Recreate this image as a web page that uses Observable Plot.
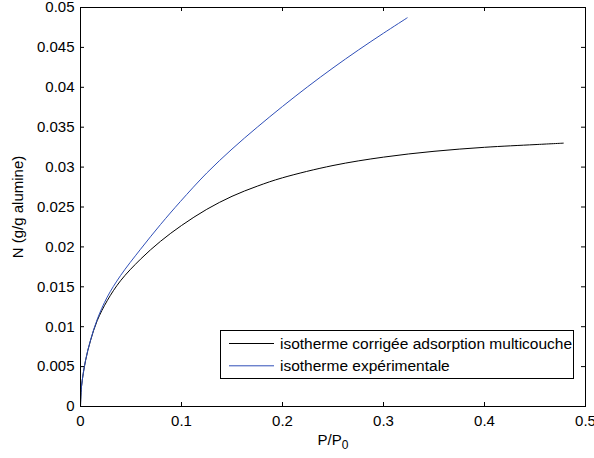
<!DOCTYPE html>
<html>
<head>
<meta charset="utf-8">
<script src="https://cdn.jsdelivr.net/npm/d3@7"></script>
<script src="https://cdn.jsdelivr.net/npm/@observablehq/plot@0.6"></script>
<style>
  body { margin: 0; background: #fff; }
  #wrap { position: relative; width: 594px; height: 458px; font-family: "Liberation Sans", Arial, Helvetica, sans-serif; }
  #legend { position: absolute; left: 220px; top: 330px; width: 352px; height: 47px; border: 1px solid #000; background: #fff; }
  #legend svg { display: block; }
</style>
</head>
<body>
<div id="wrap"></div>
<script>
// Series: corrected isotherm (black)
const pCorr = [0, 0.001, 0.005, 0.0099, 0.0165, 0.0264, 0.0396, 0.0594, 0.0792, 0.1, 0.125, 0.15, 0.175, 0.2, 0.25, 0.3, 0.35, 0.4, 0.45, 0.478];
const nCorr = [0, 0.0025, 0.00575, 0.00825, 0.01075, 0.01325, 0.01575, 0.01846, 0.0207, 0.02268, 0.02471, 0.02634, 0.02761, 0.02866, 0.0302, 0.03125, 0.03198, 0.03248, 0.03282, 0.033];
// Series: experimental isotherm (blue)
const pExp = [0, 0.001, 0.005, 0.0099, 0.0165, 0.0264, 0.0396, 0.0594, 0.0792, 0.099, 0.125, 0.15, 0.175, 0.2, 0.225, 0.25, 0.275, 0.3, 0.3234];
const nExp = [0, 0.0025, 0.0058, 0.0083, 0.0109, 0.0137, 0.0164, 0.0197, 0.0228, 0.0257, 0.02926, 0.03226, 0.035, 0.0376, 0.04008, 0.04243, 0.04466, 0.04678, 0.0487];
// Ticks
const xTicks = [0, 0.1, 0.2, 0.3, 0.4, 0.5];
const yTicks = [0, 0.005, 0.01, 0.015, 0.02, 0.025, 0.03, 0.035, 0.04, 0.045, 0.05];
// Legend labels
const seriesNames = ["isotherme corrigée adsorption multicouche", "isotherme expérimentale"];
const seriesColors = ["#000000", "#2f4fb8"];

const corr = pCorr.map((p, i) => ({p, n: nCorr[i]}));
const exp = pExp.map((p, i) => ({p, n: nExp[i]}));

const W = 594, H = 458, ML = 80, MR = 9, MT = 7, MB = 52, TICK = 4;
const innerW = W - ML - MR, innerH = H - MT - MB;

const chart = Plot.plot({
  width: W,
  height: H,
  marginLeft: ML,
  marginRight: MR,
  marginTop: MT,
  marginBottom: MB,
  style: {fontFamily: "'Liberation Sans', Arial, Helvetica, sans-serif", fontSize: "15px", background: "#fff", color: "#000"},
  x: {domain: [0, 0.5]},
  y: {domain: [0, 0.05]},
  marks: [
    Plot.line(corr, {x: "p", y: "n", stroke: seriesColors[0], strokeWidth: 1, curve: "catmull-rom"}),
    Plot.line(exp, {x: "p", y: "n", stroke: seriesColors[1], strokeWidth: 1, curve: "catmull-rom"}),
    Plot.axisX({anchor: "bottom", ticks: xTicks, tickSize: 0, tickPadding: 9, tickFormat: d => String(d), label: "P/P0", labelAnchor: "center", labelOffset: 38, labelArrow: "none"}),
    Plot.axisY({anchor: "left", ticks: yTicks, tickSize: 0, tickPadding: 6, tickFormat: d => String(d), label: "N (g/g alumine)", labelAnchor: "center", labelOffset: 68, labelArrow: "none"}),
    // inward ticks on all four sides
    Plot.tickX(xTicks, {x: d => d, insetTop: innerH - TICK, stroke: "#000", strokeWidth: 1}),
    Plot.tickX(xTicks, {x: d => d, insetBottom: innerH - TICK, stroke: "#000", strokeWidth: 1}),
    Plot.tickY(yTicks, {y: d => d, insetRight: innerW - TICK, stroke: "#000", strokeWidth: 1}),
    Plot.tickY(yTicks, {y: d => d, insetLeft: innerW - TICK, stroke: "#000", strokeWidth: 1}),
    Plot.frame({stroke: "#000", strokeWidth: 1})
  ]
});

// subscript in x label
d3.select(chart).selectAll("text").filter(function() { return this.textContent === "P/P0"; })
  .each(function() {
    const t = d3.select(this);
    t.text("P/P");
    t.append("tspan").attr("dy", "0.4em").attr("font-size", "0.8em").text("0");
  });

const wrap = document.getElementById("wrap");
wrap.appendChild(chart);

// legend
const leg = document.createElement("div");
leg.id = "legend";
wrap.appendChild(leg);
const ls = d3.select(leg).append("svg").attr("width", 352).attr("height", 47)
  .style("font-family", "'Liberation Sans', Arial, Helvetica, sans-serif").style("font-size", "15.5px");
const rows = ls.selectAll("g").data(seriesNames).join("g")
  .attr("transform", (d, i) => `translate(0,${12.5 + i * 22.3})`);
rows.append("line").attr("x1", 8).attr("x2", 53).attr("y1", 0).attr("y2", 0)
  .attr("stroke", (d, i) => seriesColors[i]).attr("stroke-width", 1);
rows.append("text").attr("x", 59).attr("y", 0).attr("dy", "0.35em").attr("fill", "#000").text(d => d);
</script>
</body>
</html>
